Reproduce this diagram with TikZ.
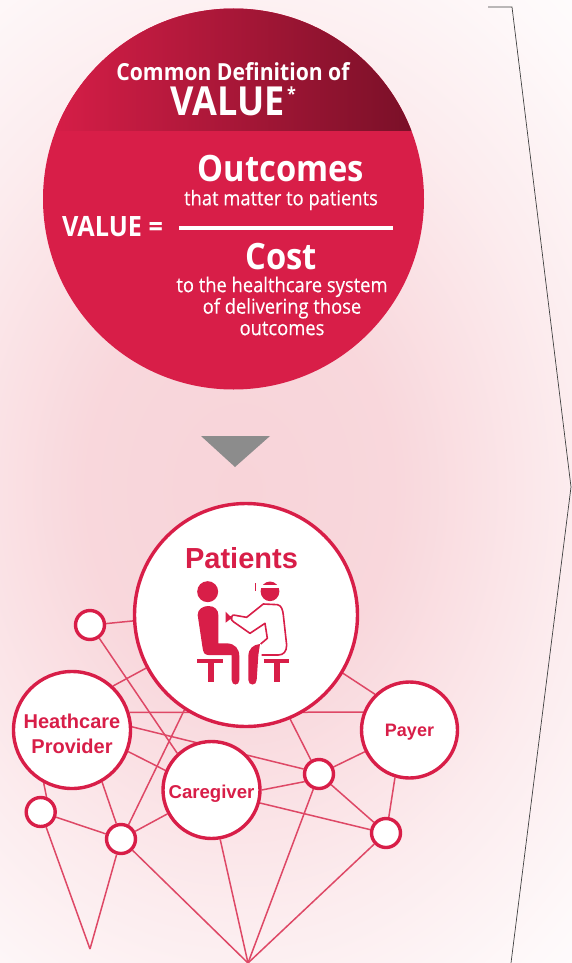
\documentclass[tikz,border=0pt]{standalone}
\usepackage{fontspec}
\setmainfont{Liberation Sans}
\newfontfamily\hd[FakeStretch=0.9]{Open Sans}
\newfontfamily\hdm[FakeStretch=0.9,FakeBold=0.35]{Open Sans}
\definecolor{crim}{HTML}{D81E48}
\definecolor{linkc}{HTML}{DE4866}
\definecolor{darkc}{HTML}{7A1028}
\definecolor{pinkc}{HTML}{F8D4D9}
\pgfdeclarelayer{grad}\pgfdeclarelayer{lines}\pgfsetlayers{grad,lines,main}
\pgfdeclareradialshading{halo}{\pgfpoint{0bp}{0bp}}{color(0bp)=(pinkc);color(10bp)=(pinkc!92!white);color(21bp)=(pinkc!45!white);color(30bp)=(pinkc!14!white);color(36bp)=(white);color(100bp)=(white)}
\tikzset{
 hub/.style={circle,draw=crim,line width=3.4pt,fill=white,inner sep=0pt,align=center,text=crim,font=\bfseries},
 dot/.style={hub,minimum size=29pt},
 link/.style={draw=linkc,line width=1.5pt},
 wtext/.style={text=white,inner sep=0pt,align=center},
 ink/.style={fill=crim,draw=none},
}
\newcommand{\hfs}[1]{\fontsize{#1}{#1}\selectfont\hd\bfseries}
\newcommand{\rfs}[1]{\fontsize{#1}{#1}\selectfont\hdm}
\begin{document}
\begin{tikzpicture}[x=1pt,y=-1pt]
\useasboundingbox (0,0) rectangle (572,963);
\begin{pgfonlayer}{grad}
 \clip (0,0) rectangle (572,963);
 \fill[white] (0,0) rectangle (572,963);
 \shade[shading=halo] (-150,-10) rectangle (630,990);
\end{pgfonlayer}
% outline
\coordinate (p1) at (488,7); \coordinate (p2) at (512,7); \coordinate (p3) at (571,487); \coordinate (p4) at (511,963);
\draw[line width=.7pt,draw=black!75] (p1)--(p2)--(p3)--(p4);
% value circle
\node[circle,fill=crim,minimum size=381pt,inner sep=0pt] (vc) at (233.5,199) {};
\begin{scope}
 \clip (233.5,199) circle (190.5);
 \shade[left color=crim,right color=darkc,shading angle=90] (43,0) rectangle (412,131);
\end{scope}
\node[wtext] (t1) at (233,72) {\hfs{23.5}Common Definition of};
\node[wtext] (t2) at (227.5,101) {\hfs{40}VALUE};
\node[wtext] (star) at (291.5,94) {\hfs{18}*};
\node[wtext] (eq) at (112.5,227) {\hfs{28}VALUE =};
\node[wtext] (t3) at (281,169) {\hfs{36.3}Outcomes};
\node[wtext] (t4) at (281,200) {\rfs{20.4}that matter to patients};
\coordinate (fa) at (179,228); \coordinate (fb) at (393,228);
\draw[white,line width=4pt] (fa)--(fb);
\node[wtext] (t5) at (281,257) {\hfs{36.3}Cost};
\node[wtext,font=\fontsize{20.4}{21.5}\selectfont\hdm] (t6) at (282,306) {to the healthcare system\\of delivering those\\outcomes};
% arrow
\fill[fill=black!45!white] (201,436)--(270,436)--(235,467)--cycle;
% network
\node[hub,minimum size=223pt] (pat) at (246,615) {};
\node[hub,minimum size=117pt,font=\fontsize{20}{24.5}\selectfont\bfseries] (hc) at (72,730) {\raisebox{0pt}[22pt][0pt]{Heathcare}\\Provider};
\node[hub,minimum size=96pt,font=\fontsize{18}{22}\selectfont\bfseries] (pay) at (409.5,730) {\raisebox{0pt}[15.5pt][3.5pt]{Payer}};
\node[hub,minimum size=97pt,font=\fontsize{18.6}{22}\selectfont\bfseries] (care) at (211.5,790) {\raisebox{0pt}[19.5pt][3.5pt]{Caregiver}};
\node[dot] (tl) at (90,625) {};
\node[dot] (s1) at (319,774) {};
\node[dot] (s2) at (386,833) {};
\node[dot] (s3) at (121,839) {};
\node[dot] (s4) at (40.7,812) {};
\coordinate (b1) at (90,949);
\coordinate (b2) at (248,963);
\begin{pgfonlayer}{lines}
\draw[link] (tl.5)--(pat.183);
\draw[link] (tl.-55)--(care.133.5);
\draw[link] (hc.47.5)--(pat.208);
\draw[link] (hc.17)--(pay.159);
\draw[link] (hc.3.4)--(s1.162);
\draw[link] (hc.-21)--(care.157.5);
\draw[link] (hc.-60)--(s3.107);
\draw[link] (hc.242.7)--(s4.69);
\draw[link] (s4)--(s3);
\draw[link] (s4)--(b1);
\draw[link] (s3)--(b1);
\draw[link] (s3)--(care);
\draw[link] (s3.62)--(pat.237);
\draw[link] (s3)--(b2);
\draw[link] (care.-80)--(b2);
\draw[link] (care.0)--(s1.208);
\draw[link] (care.-15.5)--(s2.168);
\draw[link] (pat.-67)--(s1.120);
\draw[link] (pat.-31)--(pay.134);
\draw[link] (pay)--(s1);
\draw[link] (pay.253)--(s2.80);
\draw[link] (s1)--(s2);
\draw[link] (s1)--(b2);
\draw[link] (s2)--(b2);
\end{pgfonlayer}
\node[inner sep=0pt,text=crim] (pt) at (241.5,558.5) {\fontsize{29}{29}\selectfont\bfseries Patients};
% icon, drawn in the coordinates of the crop
\begin{scope}[shift={(0,500)},x=0.33333pt,y=-0.33333pt]
 % patient
 \fill[ink] (623,275) ellipse [x radius=10.5pt,y radius=10.5pt];
 \fill[ink] (593,345) .. controls (593,328) and (608,318) .. (625,318) .. controls (645,318) and (655,330) .. (655,345)
  -- (655,430) -- (682,430) .. controls (705,432) and (718,445) .. (718,470) -- (718,540)
  .. controls (718,558) and (695,558) .. (695,540) -- (695,465) -- (625,465) .. controls (612,465) and (610,455) .. (608,445) -- cycle;
 % stools
 \draw[crim,line width=3.5pt] (592,483)--(670,483) (792,483)--(868,483);
 \draw[crim,line width=6pt] (632,483)--(632,545) (830,483)--(830,545);
 % doctor's leg
 \fill[ink] (745,540) -- (745,470) .. controls (745,445) and (760,434) .. (780,432) -- (775,465) -- (770,540) .. controls (770,558) and (745,558) .. (745,540) -- cycle;
 % doctor's head
 \fill[ink] (810,274) ellipse [x radius=9.4pt,y radius=9.8pt];
 \fill[white] (778,256) rectangle (842,265);
 \fill[ink] (764,250) rectangle (769,274);
 % coat
 \draw[crim,line width=1.6pt,line join=round] (700,345) -- (740,352) -- (790,312) -- (832,314) .. controls (845,316) and (848,330) .. (850,345) -- (860,435) .. controls (860,455) and (850,465) .. (835,465) -- (785,465);
 \draw[crim,line width=1.6pt,line join=round] (700,345) .. controls (692,350) and (692,360) .. (700,365) -- (750,400) -- (795,370) -- (802,415) -- (782,432);
 % device
 \fill[ink] (677,335) -- (690,348) -- (697,348) -- (697,358) -- (690,358) -- (677,368) -- cycle;
\end{scope}
\end{tikzpicture}
\end{document}
